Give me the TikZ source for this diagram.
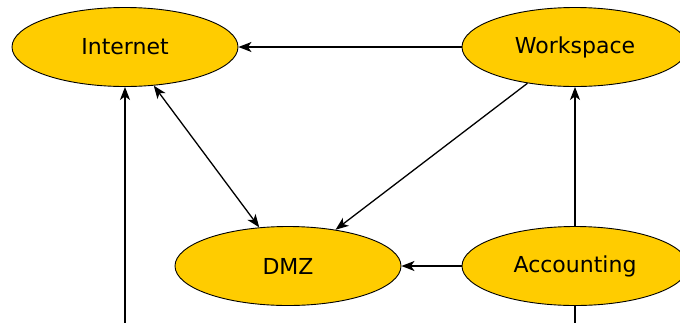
\documentclass[tikz,border=0pt]{standalone}
\usepackage{fontspec}
\setmainfont{DejaVu Sans}
\usetikzlibrary{shapes.geometric,arrows.meta}
\definecolor{zone}{HTML}{FFCC00}
\tikzset{
  zonenode/.style={ellipse, draw=black, line width=0.9pt, fill=zone, minimum width=226pt, minimum height=79pt, inner sep=0pt, font=\fontsize{22}{26}\selectfont},
  conn/.style={line width=1.3pt, -{Stealth[length=13pt,width=10pt,inset=3.5pt]}},
  biconn/.style={line width=1.3pt, {Stealth[length=13pt,width=10pt,inset=3.5pt]}-{Stealth[length=13pt,width=10pt,inset=3.5pt]}},
  plain/.style={line width=1.3pt}
}
\begin{document}
\begin{tikzpicture}[x=1pt,y=-1pt]
\useasboundingbox (0,0) rectangle (680,322);
\clip (0,0) rectangle (680,322);
\node[zonenode] (internet) at (125,47) {Internet};
\node[zonenode] (workspace) at (575,47) {Workspace};
\node[zonenode] (dmz) at (288,266) {DMZ};
\node[zonenode] (accounting) at (575,266) {Accounting};
\coordinate (below1) at (125,340);
\coordinate (below2) at (575,340);
\draw[conn] (workspace) -- (internet);
\draw[biconn] (internet) -- (dmz);
\draw[conn] (workspace) -- (dmz);
\draw[conn] (accounting) -- (dmz);
\draw[conn] (accounting) -- (workspace);
\draw[conn] (below1) -- (internet);
\draw[plain] (accounting) -- (below2);
\end{tikzpicture}
\end{document}
